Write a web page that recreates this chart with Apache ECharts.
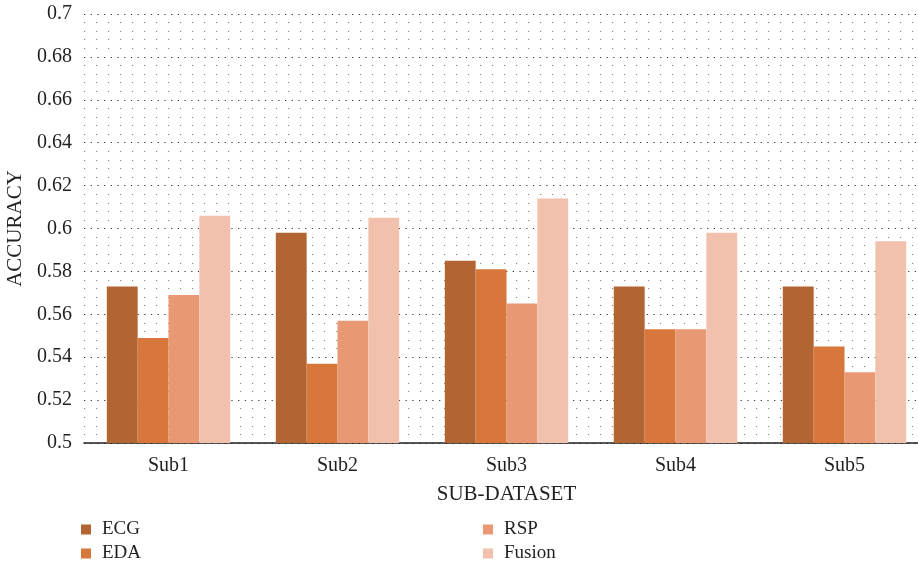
<!DOCTYPE html>
<html>
<head>
<meta charset="utf-8">
<script src="https://cdn.jsdelivr.net/npm/echarts@6/dist/echarts.min.js"></script>
<style>
  html, body { margin: 0; padding: 0; background: #fff; }
  #chart { width: 918px; height: 565px; }
</style>
</head>
<body>
<div id="chart"></div>
<script>
// Accuracy per sub-dataset for each signal modality
const categories = ['Sub1', 'Sub2', 'Sub3', 'Sub4', 'Sub5'];
const ecg    = [0.573, 0.598, 0.585, 0.573, 0.573];
const eda    = [0.549, 0.537, 0.581, 0.553, 0.545];
const rsp    = [0.569, 0.557, 0.565, 0.553, 0.533];
const fusion = [0.606, 0.605, 0.614, 0.598, 0.594];

const seriesNames = ['ECG', 'EDA', 'RSP', 'Fusion'];
const seriesColors = ['#b36433', '#d8773b', '#e89873', '#f1c1ae'];
const seriesData = [ecg, eda, rsp, fusion];

const FONT = '"Liberation Serif", "DejaVu Serif", serif';
const TEXT = '#231f20';

const chart = echarts.init(document.getElementById('chart'), null, { renderer: 'canvas' });

const legendText = { fontFamily: FONT, fontSize: 19, color: TEXT, lineHeight: 18, padding: [0, 0, 0, 6] };

chart.setOption({
  animation: false,
  textStyle: { fontFamily: FONT, color: TEXT },
  grid: { left: 84, right: -11, top: 14, bottom: 122, containLabel: false, outerBoundsMode: 'none' },
  legend: [
    {
      data: ['ECG', 'EDA'],
      orient: 'vertical',
      left: 81, top: 520, height: 60, padding: 0,
      itemWidth: 10, itemHeight: 10, itemGap: 5,
      icon: 'rect',
      textStyle: legendText
    },
    {
      data: ['RSP', 'Fusion'],
      orient: 'vertical',
      left: 483, top: 520, height: 60, padding: 0,
      itemWidth: 10, itemHeight: 10, itemGap: 5,
      icon: 'rect',
      textStyle: legendText
    }
  ],
  xAxis: {
    type: 'category',
    data: categories,
    name: 'SUB-DATASET',
    nameLocation: 'middle',
    nameGap: 41,
    nameTextStyle: { fontFamily: FONT, fontSize: 21, color: TEXT },
    axisLine: { show: true, lineStyle: { color: '#231f20', width: 1.5 } },
    axisTick: { show: false },
    axisLabel: { fontFamily: FONT, fontSize: 20, color: TEXT, margin: 13 },
    splitLine: { show: false }
  },
  yAxis: {
    type: 'value',
    min: 0.5, max: 0.7, interval: 0.02,
    name: 'ACCURACY',
    nameLocation: 'middle',
    nameGap: 54,
    nameRotate: 90,
    nameTextStyle: { fontFamily: FONT, fontSize: 21, color: TEXT },
    axisLine: { show: false },
    axisTick: { show: false },
    axisLabel: { fontFamily: FONT, fontSize: 20, color: TEXT, margin: 12 },
    splitLine: { show: true, lineStyle: { color: '#333', width: 1.2, type: [1.2, 5.5] } },
    minorTick: { show: false, splitNumber: 5 },
    minorSplitLine: { show: true, lineStyle: { color: '#888', width: 1.2, type: [1.2, 10.8] } }
  },
  series: seriesNames.map((name, i) => ({
    name,
    type: 'bar',
    data: seriesData[i],
    barGap: '0%',
    barCategoryGap: '27%',
    itemStyle: { color: seriesColors[i] }
  }))
});
</script>
</body>
</html>
